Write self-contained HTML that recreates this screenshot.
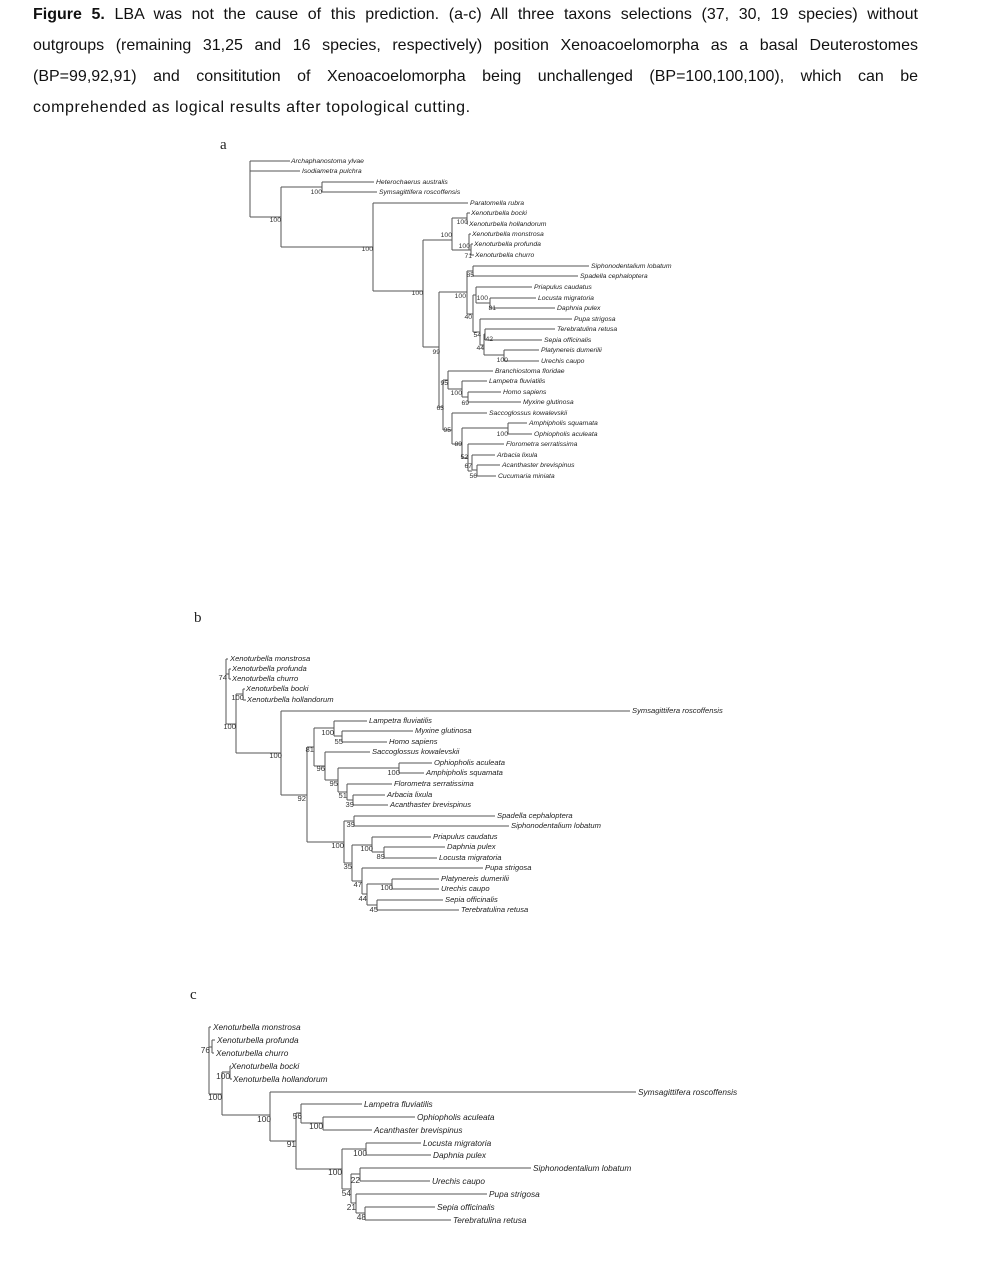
<!DOCTYPE html>
<html><head><meta charset="utf-8">
<style>
html,body{margin:0;padding:0;background:#fff;width:986px;height:1265px;overflow:hidden;}
.cap{position:absolute;left:33px;width:885px;font-family:"Liberation Sans",sans-serif;font-size:16px;color:#111;text-align:justify;text-align-last:justify;white-space:nowrap;line-height:20px;}
.cap.last{text-align-last:left;letter-spacing:0.6px;}
svg{position:absolute;left:0;top:0;}
.a text{font-family:"Liberation Sans",sans-serif;font-size:6.8px;font-style:italic;fill:#222;}
.b text{font-family:"Liberation Sans",sans-serif;font-size:7.6px;font-style:italic;fill:#222;}
.c text{font-family:"Liberation Sans",sans-serif;font-size:8.3px;font-style:italic;fill:#222;}
text.n{font-style:normal !important;text-anchor:end;fill:#333;}
path{stroke:#555;stroke-width:1;fill:none;}
</style></head><body>
<div class="cap" style="top:5px"><b>Figure 5.</b> LBA was not the cause of this prediction. (a-c) All three taxons selections (37, 30, 19 species) without</div>
<div class="cap" style="top:36px">outgroups (remaining 31,25 and 16 species, respectively) position Xenoacoelomorpha as a basal Deuterostomes</div>
<div class="cap" style="top:67px">(BP=99,92,91) and consititution of Xenoacoelomorpha being unchallenged (BP=100,100,100), which can be</div>
<div class="cap last" style="top:98px">comprehended as logical results after topological cutting.</div>

<svg width="986" height="1265" xmlns="http://www.w3.org/2000/svg">
<g font-family="Liberation Serif,serif" font-size="15" fill="#222">
<text x="220" y="149">a</text><text x="194" y="622">b</text><text x="190" y="999">c</text>
</g>

<!-- TREE A -->
<g class="a">
<path d="M250 161V217 M250 161H290 M250 171H300 M250 217H281 M281 187V247 M281 187H322 M322 182V192 M322 182H374 M322 192H377
M281 247H373 M373 203V291 M373 203H468 M373 291H423 M423 240V347 M423 240H452 M452 218V250 M452 218H467 M467 213V224 M467 213H470 M467 224H468
M452 250H469 M469 234V250 M469 234H471 M469 250H471 M471 244V255 M471 244H473 M471 255H474
M423 347H439 M439 292V407 M439 292H467 M467 271V314 M467 271H473 M473 266V276 M473 266H589 M473 276H578
M467 314H473 M473 295V332 M473 295H476 M476 287V303 M476 287H532 M476 303H490 M490 298V308 M490 298H536 M490 308H555
M473 332H480 M480 319V345 M480 319H572 M480 345H484 M484 334V355 M484 334H485 M485 329V340 M485 329H555 M485 340H542 M484 355H504 M504 350V361 M504 350H539 M504 361H539
M439 407H443 M443 380V430 M443 380H448 M448 371V389 M448 371H493 M448 389H462 M462 381V397 M462 381H487 M462 397H468 M468 392V402 M468 392H501 M468 402H521
M443 430H452 M452 413V444 M452 413H487 M452 444H462 M462 428V458 M462 428H508 M508 423V434 M508 423H527 M508 434H532 M462 458H468 M468 444V471 M468 444H504 M468 471H472 M472 455V470 M472 455H495 M472 470H477 M477 465V476 M477 465H500 M477 476H496"/>
<text x="291" y="163">Archaphanostoma ylvae</text>
<text x="302" y="173">Isodiametra pulchra</text>
<text x="376" y="184">Heterochaerus australis</text>
<text x="379" y="194">Symsagittifera roscoffensis</text>
<text x="470" y="205">Paratomella rubra</text>
<text x="471" y="215">Xenoturbella bocki</text>
<text x="469" y="226">Xenoturbella hollandorum</text>
<text x="472" y="236">Xenoturbella monstrosa</text>
<text x="474" y="246">Xenoturbella profunda</text>
<text x="475" y="257">Xenoturbella churro</text>
<text x="591" y="268">Siphonodentalium lobatum</text>
<text x="580" y="278">Spadella cephaloptera</text>
<text x="534" y="289">Priapulus caudatus</text>
<text x="538" y="300">Locusta migratoria</text>
<text x="557" y="310">Daphnia pulex</text>
<text x="574" y="321">Pupa strigosa</text>
<text x="557" y="331">Terebratulina retusa</text>
<text x="544" y="342">Sepia officinalis</text>
<text x="541" y="352">Platynereis dumerilii</text>
<text x="541" y="363">Urechis caupo</text>
<text x="495" y="373">Branchiostoma floridae</text>
<text x="489" y="383">Lampetra fluviatilis</text>
<text x="503" y="394">Homo sapiens</text>
<text x="523" y="404">Myxine glutinosa</text>
<text x="489" y="415">Saccoglossus kowalevskii</text>
<text x="529" y="425">Amphipholis squamata</text>
<text x="534" y="436">Ophiopholis aculeata</text>
<text x="506" y="446">Florometra serratissima</text>
<text x="497" y="457">Arbacia lixula</text>
<text x="502" y="467">Acanthaster brevispinus</text>
<text x="498" y="478">Cucumaria miniata</text>
<text class="n" x="281" y="222">100</text>
<text class="n" x="322" y="194">100</text>
<text class="n" x="373" y="251">100</text>
<text class="n" x="423" y="295">100</text>
<text class="n" x="468" y="224">100</text>
<text class="n" x="452" y="237">100</text>
<text class="n" x="470" y="248">100</text>
<text class="n" x="472" y="258">71</text>
<text class="n" x="474" y="277">85</text>
<text class="n" x="466" y="298">100</text>
<text class="n" x="488" y="300">100</text>
<text class="n" x="496" y="310">81</text>
<text class="n" x="472" y="319">40</text>
<text class="n" x="481" y="337">54</text>
<text class="n" x="493" y="341">42</text>
<text class="n" x="484" y="350">44</text>
<text class="n" x="508" y="362">100</text>
<text class="n" x="440" y="354">99</text>
<text class="n" x="448" y="385">95</text>
<text class="n" x="462" y="395">100</text>
<text class="n" x="469" y="405">69</text>
<text class="n" x="444" y="410">63</text>
<text class="n" x="451" y="432">95</text>
<text class="n" x="508" y="436">100</text>
<text class="n" x="462" y="446">89</text>
<text class="n" x="468" y="459">52</text>
<text class="n" x="472" y="468">67</text>
<text class="n" x="477" y="478">56</text>
</g>

<!-- TREE B -->
<g class="b">
<path d="M226 659V724 M226 659H228 M226 674H229 M229 669V679 M229 669H231 M229 679H231 M226 724H236 M236 694V753 M236 694H243 M243 689V700 M243 689H245 M243 700H246
M236 753H281 M281 711V795 M281 711H630 M281 795H307 M307 747V842 M307 747H314 M314 728V766 M314 728H334 M334 721V736 M334 721H367 M334 736H342 M342 731V742 M342 731H413 M342 742H387
M314 766H325 M325 752V780 M325 752H370 M325 780H338 M338 768V792 M338 768H399 M399 763V773 M399 763H432 M399 773H424 M338 792H347 M347 784V800 M347 784H392 M347 800H353 M353 795V805 M353 795H385 M353 805H388
M307 842H344 M344 821V863 M344 821H354 M354 816V826 M354 816H495 M354 826H509 M344 863H352 M352 845V881 M352 845H372 M372 837V852 M372 837H431 M372 852H384 M384 847V858 M384 847H445 M384 858H437
M352 881H362 M362 868V894 M362 868H483 M362 894H367 M367 884V905 M367 884H392 M392 879V889 M392 879H439 M392 889H439 M367 905H377 M377 900V910 M377 900H443 M377 910H459"/>
<text x="230" y="661">Xenoturbella monstrosa</text>
<text x="232" y="671">Xenoturbella profunda</text>
<text x="232" y="681">Xenoturbella churro</text>
<text x="246" y="691">Xenoturbella bocki</text>
<text x="247" y="702">Xenoturbella hollandorum</text>
<text x="632" y="713">Symsagittifera roscoffensis</text>
<text x="369" y="723">Lampetra fluviatilis</text>
<text x="415" y="733">Myxine glutinosa</text>
<text x="389" y="744">Homo sapiens</text>
<text x="372" y="754">Saccoglossus kowalevskii</text>
<text x="434" y="765">Ophiopholis aculeata</text>
<text x="426" y="775">Amphipholis squamata</text>
<text x="394" y="786">Florometra serratissima</text>
<text x="387" y="797">Arbacia lixula</text>
<text x="390" y="807">Acanthaster brevispinus</text>
<text x="497" y="818">Spadella cephaloptera</text>
<text x="511" y="828">Siphonodentalium lobatum</text>
<text x="433" y="839">Priapulus caudatus</text>
<text x="447" y="849">Daphnia pulex</text>
<text x="439" y="860">Locusta migratoria</text>
<text x="485" y="870">Pupa strigosa</text>
<text x="441" y="881">Platynereis dumerilii</text>
<text x="441" y="891">Urechis caupo</text>
<text x="445" y="902">Sepia officinalis</text>
<text x="461" y="912">Terebratulina retusa</text>
<text class="n" x="227" y="680">74</text>
<text class="n" x="244" y="700">100</text>
<text class="n" x="236" y="729">100</text>
<text class="n" x="282" y="758">100</text>
<text class="n" x="314" y="752">81</text>
<text class="n" x="306" y="801">92</text>
<text class="n" x="334" y="735">100</text>
<text class="n" x="343" y="744">55</text>
<text class="n" x="325" y="771">96</text>
<text class="n" x="338" y="786">95</text>
<text class="n" x="347" y="798">51</text>
<text class="n" x="354" y="807">39</text>
<text class="n" x="400" y="775">100</text>
<text class="n" x="355" y="827">39</text>
<text class="n" x="344" y="848">100</text>
<text class="n" x="373" y="851">100</text>
<text class="n" x="385" y="859">89</text>
<text class="n" x="352" y="869">35</text>
<text class="n" x="362" y="887">47</text>
<text class="n" x="367" y="901">44</text>
<text class="n" x="393" y="890">100</text>
<text class="n" x="378" y="912">45</text>
</g>

<!-- TREE C -->
<g class="c">
<path d="M209 1027V1094 M209 1027H211 M209 1047H212 M212 1040V1053 M212 1040H215 M212 1053H214 M209 1094H222 M222 1072V1115 M222 1072H230 M230 1066V1079 M230 1066H231 M230 1079H232
M222 1115H270 M270 1092V1141 M270 1092H636 M270 1141H296 M296 1113V1169 M296 1113H301 M301 1104V1123 M301 1104H362 M301 1123H323 M323 1117V1130 M323 1117H415 M323 1130H372
M296 1169H342 M342 1149V1189 M342 1149H366 M366 1143V1155 M366 1143H421 M366 1155H431 M342 1189H351 M351 1174V1203 M351 1174H360 M360 1168V1181 M360 1168H531 M360 1181H430
M351 1203H356 M356 1194V1213 M356 1194H487 M356 1213H365 M365 1207V1220 M365 1207H435 M365 1220H451"/>
<text x="213" y="1030">Xenoturbella monstrosa</text>
<text x="217" y="1043">Xenoturbella profunda</text>
<text x="216" y="1056">Xenoturbella churro</text>
<text x="231" y="1069">Xenoturbella bocki</text>
<text x="233" y="1082">Xenoturbella hollandorum</text>
<text x="638" y="1095">Symsagittifera roscoffensis</text>
<text x="364" y="1107">Lampetra fluviatilis</text>
<text x="417" y="1120">Ophiopholis aculeata</text>
<text x="374" y="1133">Acanthaster brevispinus</text>
<text x="423" y="1146">Locusta migratoria</text>
<text x="433" y="1158">Daphnia pulex</text>
<text x="533" y="1171">Siphonodentalium lobatum</text>
<text x="432" y="1184">Urechis caupo</text>
<text x="489" y="1197">Pupa strigosa</text>
<text x="437" y="1210">Sepia officinalis</text>
<text x="453" y="1223">Terebratulina retusa</text>
<text class="n" x="210" y="1053">76</text>
<text class="n" x="230" y="1079">100</text>
<text class="n" x="222" y="1100">100</text>
<text class="n" x="271" y="1122">100</text>
<text class="n" x="302" y="1119">56</text>
<text class="n" x="323" y="1129">100</text>
<text class="n" x="296" y="1147">91</text>
<text class="n" x="367" y="1156">100</text>
<text class="n" x="342" y="1175">100</text>
<text class="n" x="360" y="1183">22</text>
<text class="n" x="351" y="1196">54</text>
<text class="n" x="356" y="1210">21</text>
<text class="n" x="366" y="1220">48</text>
</g>
</svg>
</body></html>
